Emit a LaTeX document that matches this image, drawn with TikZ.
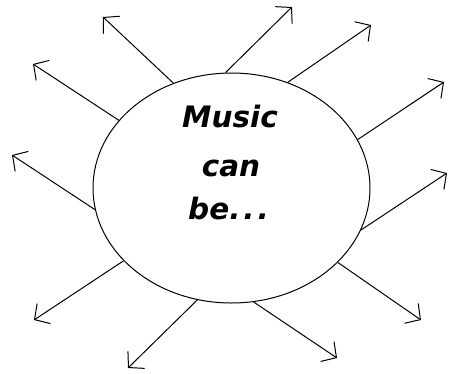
\documentclass[tikz,border=0pt]{standalone}
\usepackage{fontspec}
\setmainfont{DejaVu Sans}
\usetikzlibrary{arrows.meta,shapes.geometric}
\begin{document}
\begin{tikzpicture}[x=1pt,y=-1pt,
  ray/.style={line width=1pt, -{Straight Barb[length=11pt,width=24pt,line width=1pt]}},
  word/.style={anchor=base, font=\fontsize{29.5}{34}\selectfont\bfseries\itshape, inner sep=0pt}]
\useasboundingbox (0,0) rectangle (449,373);
\node[draw, line width=1pt, ellipse, minimum width=277pt, minimum height=230pt, inner sep=0pt] (c) at (231.5,188) {};
\node[word] (t1) at (230,127) {Music};
\node[word] (t2) at (231,176) {can};
\node[word] (t3) at (228.5,219) {be.\kern3pt.\kern3pt.};
\coordinate (pa) at (103,17);
\coordinate (pd) at (292,7);
\coordinate (pe) at (371,25);
\coordinate (pf) at (444,82);
\coordinate (pg) at (447,173);
\coordinate (ph) at (421,320);
\coordinate (pi) at (337,358);
\coordinate (pk) at (128,368);
\coordinate (pj) at (34,320);
\coordinate (pc) at (12,155);
\coordinate (pb) at (33,64);
\draw[ray] (c.119.6) -- (pa);
\draw[ray] (c.93.7) -- (pd);
\draw[ray] (c.62.8) -- (pe);
\draw[ray] (c.21.4) -- (pf);
\draw[ray] (c.-18) -- (pg);
\draw[ray] (c.-35.8) -- (ph);
\draw[ray] (c.-79.8) -- (pi);
\draw[ray] (c.253.3) -- (pk);
\draw[ray] (c.214.2) -- (pj);
\draw[ray] (c.189.2) -- (pc);
\draw[ray] (c.149.6) -- (pb);
\end{tikzpicture}
\end{document}
